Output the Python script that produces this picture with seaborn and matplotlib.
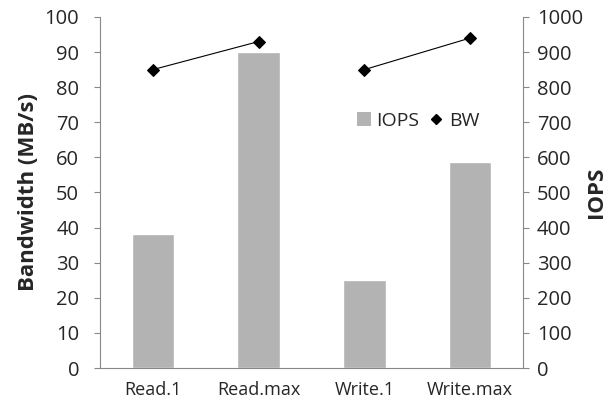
import numpy as np
import pandas as pd
import matplotlib
matplotlib.use("Agg")
import matplotlib.pyplot as plt
from matplotlib.lines import Line2D
from matplotlib.patches import Patch
import seaborn as sns

# data
categories = ["Read.1", "Read.max", "Write.1", "Write.max"]
groups = ["Read", "Read", "Write", "Write"]
iops = [382, 900, 250, 587]
bw = [85, 93, 85, 94]

sns.set_style("white")
plt.rcParams["font.family"] = ["Open Sans", "DejaVu Sans"]

df = pd.DataFrame({"cat": categories, "group": groups, "iops": iops, "bw": bw})
df["pos"] = np.arange(len(categories))

fig = plt.figure(figsize=(6.16, 4.04), dpi=100)
ax = fig.add_axes([0.1623, 0.0891, 0.6867, 0.8689])
ax2 = ax.twinx()

grey = "#888888"

# bars go on the IOPS axis (right)
sns.barplot(data=df, x="pos", y="iops", color="#b3b3b3", width=0.4,
            saturation=1, ax=ax2, native_scale=True)
ax2.set_ylim(0, 1000)
ax2.set_yticks(range(0, 1001, 100))
ax2.set_ylabel("IOPS", fontsize=16, fontweight="bold", labelpad=2)

# BW line, one segment per group
sns.lineplot(data=df, x="pos", y="bw", units="group", estimator=None,
             color="black", lw=0.8, marker="D", markersize=6,
             markeredgecolor="black", ax=ax)
ax.set_ylim(0, 100)
ax.set_yticks(range(0, 101, 10))
ax.set_ylabel("Bandwidth (MB/s)", fontsize=16, fontweight="bold", labelpad=4)
ax.set_xlabel("")
ax2.set_xlabel("")

# line drawn above the bars
ax.set_zorder(ax2.get_zorder() + 1)
ax.patch.set_visible(False)

ax.set_xlim(-0.5, len(categories) - 0.5)
ax.set_xticks(df["pos"])
ax.set_xticklabels(categories, fontsize=13)
ax.set_xticks(np.arange(-0.5, len(categories)), minor=True)
ax.tick_params(axis="x", which="major", length=0, pad=9)
ax.tick_params(axis="x", which="minor", length=5, color=grey, width=0.8)
ax.tick_params(axis="y", which="major", length=4, color=grey, width=0.8,
               labelsize=14.5, left=True, pad=11)
ax2.tick_params(axis="y", which="major", length=4, color=grey, width=0.8,
                labelsize=14.5, right=True, pad=6)
ax2.tick_params(axis="x", length=0, labelbottom=False)

for a in (ax, ax2):
    a.spines["top"].set_visible(False)
    for side in ("left", "right", "bottom"):
        a.spines[side].set_color(grey)
        a.spines[side].set_linewidth(0.8)
ax.spines["right"].set_visible(False)
ax2.spines["left"].set_visible(False)
ax2.spines["bottom"].set_visible(False)

handles = [Patch(facecolor="#b3b3b3", edgecolor="none", label="IOPS"),
           Line2D([], [], color="black", marker="D", markersize=5, lw=0, label="BW")]
ax.legend(handles=handles, loc="center left", bbox_to_anchor=(0.608, 0.705),
          ncol=2, frameon=False, fontsize=14, handlelength=0.7,
          handleheight=0.7, handletextpad=0.3, columnspacing=0.5,
          borderaxespad=0, borderpad=0)

fig.savefig("out.png", dpi=100)
